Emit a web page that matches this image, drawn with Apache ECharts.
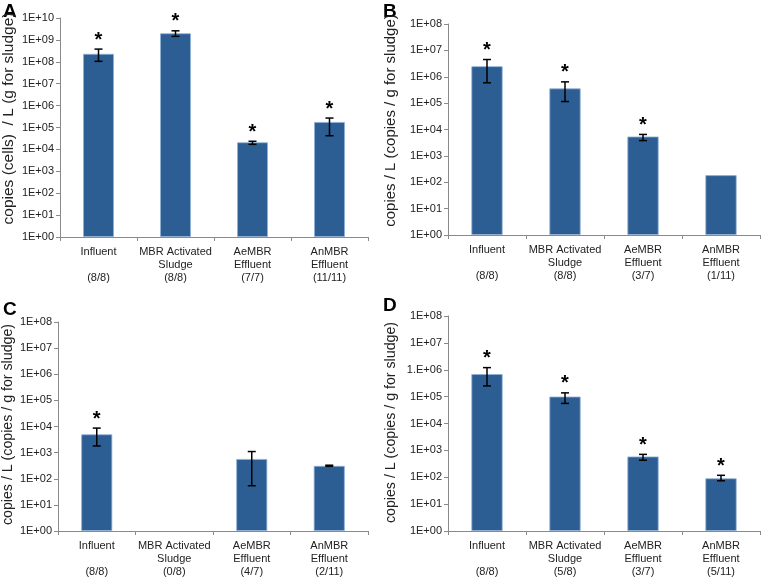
<!DOCTYPE html>
<html>
<head>
<meta charset="utf-8">
<script src="https://cdn.jsdelivr.net/npm/echarts@6/dist/echarts.min.js"></script>
<style>html,body{margin:0;padding:0;background:#fff}#c{width:761px;height:580px}</style>
</head>
<body>
<div id="c"></div>
<script>
// ---- data ----
const categories = ['Influent\n', 'MBR Activated\nSludge', 'AeMBR\nEffluent', 'AnMBR\nEffluent'];

const ratiosA = ['(8/8)', '(8/8)', '(7/7)', '(11/11)'];
const valuesA = [2.3e8, 2.0e9, 2.1e4, 1.78e5];
const lowA    = [1.05e8, 1.45e9, 1.7e4, 4.2e4];
const highA   = [3.8e8, 2.6e9, 2.35e4, 2.7e5];
const starA   = [1, 1, 1, 1];

const ratiosB = ['(8/8)', '(8/8)', '(3/7)', '(1/11)'];
const valuesB = [2.5e6, 3.6e5, 5.4e3, 185];
const lowB    = [5.9e5, 1.15e5, 3.8e3, null];
const highB   = [4.5e6, 6.4e5, 6.5e3, null];
const starB   = [1, 1, 1, 0];

const ratiosC = ['(8/8)', '(0/8)', '(4/7)', '(2/11)'];
const valuesC = [5.0e3, null, 5.7e2, 3.1e2];
const lowC    = [1.8e3, null, 54, 3.0e2];
const highC   = [8.7e3, null, 1.1e3, 3.3e2];
const starC   = [1, 0, 0, 0];

const ratiosD = ['(8/8)', '(5/8)', '(3/7)', '(5/11)'];
const valuesD = [6.9e5, 1.0e5, 5.9e2, 91];
const lowD    = [2.5e5, 5.6e4, 4.3e2, 74];
const highD   = [1.2e6, 1.38e5, 7.1e2, 118];
const starD   = [1, 1, 1, 1];

const ticksA = ['1E+00','1E+01','1E+02','1E+03','1E+04','1E+05','1E+06','1E+07','1E+08','1E+09','1E+10'];
const ticksB = ['1E+00','1E+01','1E+02','1E+03','1E+04','1E+05','1E+06','1E+07','1E+08'];
const ticksC = ['1E+00','1E+01','1E+02','1E+03','1E+04','1E+05','1E+06','1E+07','1E+08'];
const ticksD = ['1E+00','1E+01','1E+02','1E+03','1E+04','1E+05','1.E+06','1E+07','1E+08'];

const yNameA = 'copies (cells)  / L (g for sludge)';
const yNameOther = 'copies / L (copies / g for sludge)';
const panelLetters = ['A', 'B', 'C', 'D'];

// ---- layout ----
const grids = [
  {left: 58, top: 18, width: 310, height: 219},
  {left: 448, top: 24, width: 312, height: 211},
  {left: 58, top: 322, width: 310, height: 209},
  {left: 448, top: 316, width: 312, height: 215}
];
const panels = [
  {ratios: ratiosA, values: valuesA, low: lowA, high: highA, star: starA, ticks: ticksA, max: 1e10, name: yNameA, gap: 43, fs: 15.5, pad: 18},
  {ratios: ratiosB, values: valuesB, low: lowB, high: highB, star: starB, ticks: ticksB, max: 1e8, name: yNameOther, gap: 50, fs: 15, pad: 18},
  {ratios: ratiosC, values: valuesC, low: lowC, high: highC, star: starC, ticks: ticksC, max: 1e8, name: yNameOther, gap: 43, fs: 14.2, pad: 4},
  {ratios: ratiosD, values: valuesD, low: lowD, high: highD, star: starD, ticks: ticksD, max: 1e8, name: yNameOther, gap: 50, fs: 14.2, pad: 2}
];
const letterPos = [[3, 2], [383, 2], [3, 300], [383, 296]];

const FONT = 'Liberation Sans, Arial, sans-serif';
const axisColor = '#8a8a8a';
const barColor = '#2d5e93';

const xAxes = [], yAxes = [], series = [], graphics = [];
panels.forEach((p, i) => {
  xAxes.push({
    type: 'category', gridIndex: i,
    data: categories.map((c, k) => c + '\n' + p.ratios[k]),
    axisLine: {lineStyle: {color: axisColor, width: 1}},
    axisTick: {show: true, length: 4, lineStyle: {color: axisColor}},
    axisLabel: {color: '#222', fontFamily: FONT, fontSize: 11, lineHeight: 13, margin: 8, interval: 0}
  });
  yAxes.push({
    type: 'log', logBase: 10, gridIndex: i, min: 1, max: p.max, interval: 1,
    splitLine: {show: false},
    axisLine: {show: true, lineStyle: {color: axisColor, width: 1}},
    axisTick: {show: true, length: 4, lineStyle: {color: axisColor}},
    minorTick: {show: false},
    axisLabel: {
      color: '#222', fontFamily: FONT, fontSize: 11, margin: 6, showMinLabel: true, showMaxLabel: true,
      formatter: (v => p.ticks[Math.round(Math.log10(v))])
    },
    name: p.name, nameLocation: 'middle', nameGap: p.gap, nameRotate: 90,
    nameTextStyle: {color: '#222', fontFamily: FONT, fontSize: p.fs, padding: [0, 0, 0, p.pad]}
  });
  series.push({
    type: 'bar', xAxisIndex: i, yAxisIndex: i,
    data: p.values.map(v => v == null ? '-' : v),
    barWidth: '40%',
    itemStyle: {color: barColor, borderColor: '#8fb0d6', borderWidth: 0.8},
    silent: true
  });
  series.push({
    type: 'custom', xAxisIndex: i, yAxisIndex: i,
    data: p.values.map((v, k) => [k, p.low[k], p.high[k], p.star[k], v]),
    renderItem: function (params, api) {
      const k = api.value(0);
      const lo = api.value(1), hi = api.value(2), st = api.value(3), v = api.value(4);
      const children = [];
      let topY;
      if (lo && hi && !isNaN(lo) && !isNaN(hi)) {
        const pLo = api.coord([k, lo]);
        const pHi = api.coord([k, hi]);
        const x = pLo[0];
        const cw = 4;
        const st2 = {stroke: '#000', lineWidth: 1.5};
        children.push({type: 'line', shape: {x1: x, y1: pLo[1], x2: x, y2: pHi[1]}, style: st2});
        children.push({type: 'line', shape: {x1: x - cw, y1: pLo[1], x2: x + cw, y2: pLo[1]}, style: st2});
        children.push({type: 'line', shape: {x1: x - cw, y1: pHi[1], x2: x + cw, y2: pHi[1]}, style: st2});
        topY = pHi[1];
      } else if (v && !isNaN(v)) {
        topY = api.coord([k, v])[1];
      }
      if (st && topY != null) {
        const x = api.coord([k, 1])[0];
        children.push({type: 'text', x: x, y: topY - 9,
          style: {text: '*', fontSize: 20, fontWeight: 'bold', fontFamily: FONT, fill: '#000', align: 'center', verticalAlign: 'middle'}});
      }
      return {type: 'group', children: children};
    },
    silent: true, z: 5
  });
  graphics.push({type: 'text', left: letterPos[i][0], top: letterPos[i][1],
    style: {text: panelLetters[i], fontSize: 19, fontWeight: 'bold', fontFamily: FONT, fill: '#000'}});
});

const chart = echarts.init(document.getElementById('c'), null, {renderer: 'canvas'});
chart.setOption({
  animation: false,
  backgroundColor: '#fff',
  grid: grids.map(g => Object.assign({containLabel: false}, g)),
  xAxis: xAxes,
  yAxis: yAxes,
  series: series,
  graphic: graphics
});
</script>
</body>
</html>
